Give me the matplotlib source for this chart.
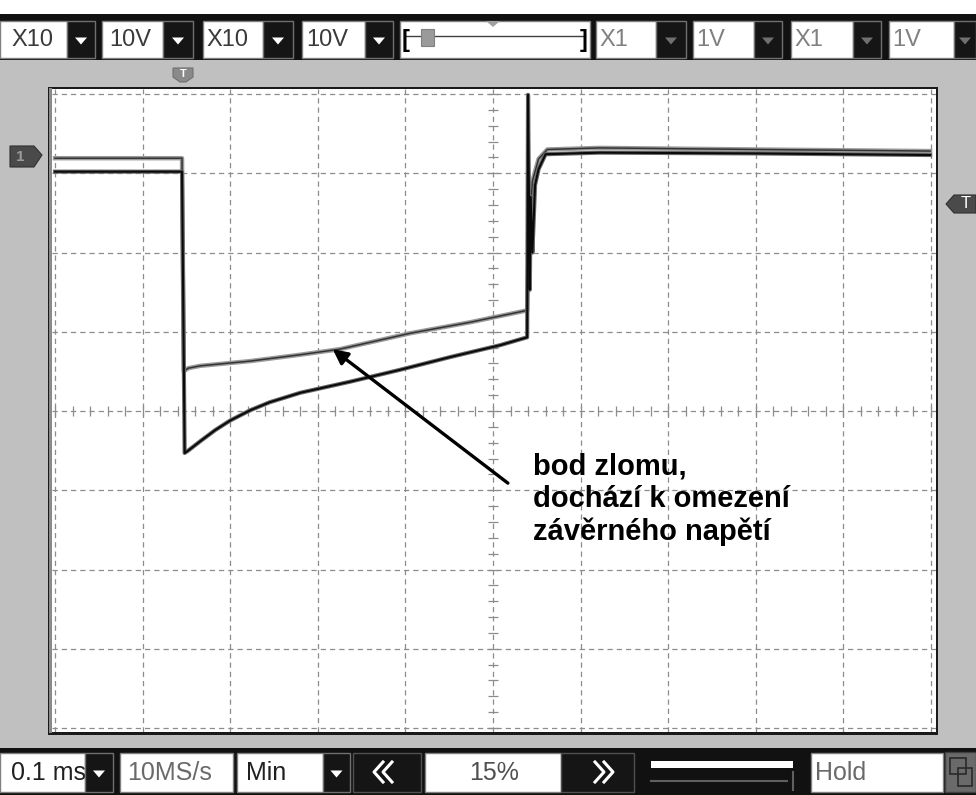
import numpy as np
import matplotlib
matplotlib.use("Agg")
import matplotlib.pyplot as plt
import matplotlib.patheffects as pe
from matplotlib.patches import Rectangle, Polygon

plt.rcParams['font.family'] = ['Liberation Sans', 'DejaVu Sans']

# --- data (time in ms, voltage in V) ---
t_ch1 = [0.0, 0.145, 0.148, 0.152, 0.166, 0.183, 0.200, 0.223, 0.245, 0.280,
         0.337, 0.394, 0.451, 0.508, 0.539, 0.540, 0.542, 0.543, 0.545, 0.548,
         0.552, 0.560, 0.622, 0.800, 0.999]
v_ch1 = [30.2, 30.2, -5.3, -5.0, -3.8, -2.4, -1.2, 0.1, 1.1, 2.3,
         3.7, 5.2, 6.8, 8.3, 9.3, 39.9, 15.3, 27.0, 20.0, 28.5,
         30.5, 32.4, 32.6, 32.5, 32.3]

t_ch2 = [0.0, 0.145, 0.147, 0.152, 0.166, 0.223, 0.280, 0.325, 0.405, 0.474,
         0.539, 0.541, 0.545, 0.552, 0.562, 0.622, 0.800, 0.999]
v_ch2 = [31.9, 31.9, 5.0, 5.4, 5.7, 6.3, 7.1, 7.8, 9.8, 11.2,
         12.7, 22.0, 29.0, 31.8, 33.0, 33.2, 33.0, 32.8]

note_text = "bod zlomu,\ndochází k omezení\nzávěrného napětí"
note_xy = (0.317, 7.8)       # tip of the arrow
note_from = (0.517, -9.1)    # tail of the arrow

top_labels = ["X10", "10V", "X10", "10V", "X1", "1V", "X1", "1V"]
bottom_labels = ["0.1 ms", "10MS/s", "Min", "15%", "Hold"]

W, H = 976, 795
fig = plt.figure(figsize=(W / 100, H / 100), dpi=100)
fig.patch.set_facecolor("white")

# background axes in pixel coordinates for the instrument chrome
bg = fig.add_axes([0, 0, 1, 1])
bg.set_xlim(0, W)
bg.set_ylim(H, 0)
bg.axis("off")


def rect(x0, y0, x1, y1, fc, ec="none", lw=0, z=1):
    bg.add_patch(Rectangle((x0, y0), x1 - x0, y1 - y0, facecolor=fc,
                           edgecolor=ec, linewidth=lw, zorder=z))


def dropdown(x0, x1, y0, y1, tri="white"):
    rect(x0, y0, x1, y1, "#151515", "#707070", 1.0, z=3)
    cx = (x0 + x1) / 2
    cy = (y0 + y1) / 2 + 1
    bg.add_patch(Polygon([[cx - 6, cy - 3], [cx + 6, cy - 3], [cx, cy + 4]],
                         closed=True, facecolor=tri, edgecolor="none", zorder=4))


def box(x0, x1, y0, y1, label, color, tx, ha="left", fs=17):
    rect(x0, y0, x1, y1, "white", "#808080", 1.0, z=2)
    bg.text(tx, (y0 + y1) / 2 + 1, label, fontsize=fs, color=color,
            ha=ha, va="center", zorder=2.5, clip_on=False)


# grey panel and black tool bars
rect(0, 60, W, 750, "#c0c0c0")
rect(0, 14, W, 60, "#111111")
rect(0, 748, W, H, "#111111")

# top bar
top_boxes = [(0, 67, 95), (102, 163, 193), (203, 263, 293), (302, 365, 393),
             (596, 656, 686), (693, 754, 782), (791, 853, 881), (889, 954, 976)]
top_text_x = [11, 109, 206, 306, 599, 696, 794, 892]
for i, (bx0, bx1, dx1) in enumerate(top_boxes):
    enabled = i < 4
    box(bx0, bx1, 21, 58, top_labels[i], "#3a3a3a" if enabled else "#808080",
        top_text_x[i])
    dropdown(bx1, dx1, 21, 58, "white" if enabled else "#707070")

# trigger position slider
rect(400, 21, 590, 58, "white", "#808080", 1.0, z=2)
bg.plot([406, 585], [36, 36], color="#404040", lw=1.0, zorder=3)
bg.text(402, 40, "[", fontsize=17, fontweight="bold", color="black", va="center", zorder=3)
bg.text(580, 40, "]", fontsize=17, fontweight="bold", color="black", va="center", zorder=3)
rect(421, 29, 434, 46, "#9a9a9a", "#808080", 0.8, z=4)
bg.add_patch(Polygon([[486, 21], [500, 21], [493, 27]], closed=True,
                     facecolor="#a0a0a0", edgecolor="none", zorder=4))

# trigger marker above the screen
bg.add_patch(Polygon([[173, 68], [193, 68], [193, 77], [186, 82], [180, 82], [173, 77]],
                     closed=True, facecolor="#8a8a8a", edgecolor="#707070", lw=0.8, zorder=3))
bg.text(183, 74, "T", fontsize=8, fontweight="bold", color="white", ha="center",
        va="center", zorder=4)

# channel 1 marker on the left
bg.add_patch(Polygon([[10, 146], [34, 146], [42, 155], [34, 167], [10, 167]],
                     closed=True, facecolor="#4a4a4a", edgecolor="#303030", lw=0.8, zorder=3))
bg.text(20, 157, "1", fontsize=11, fontweight="bold", color="#9a9a9a", ha="center",
        va="center", zorder=4)

# trigger level marker on the right
bg.add_patch(Polygon([[976, 195], [954, 195], [946, 204], [954, 213], [976, 213]],
                     closed=True, facecolor="#4a4a4a", edgecolor="#303030", lw=0.8, zorder=3))
bg.text(966, 204, "T", fontsize=12, color="white", ha="center", va="center", zorder=4)

# screen frame
rect(48, 87, 938, 735, "#1a1a1a", z=1)
rect(49, 88, 52, 733, "#8a8a8a", z=1.5)

# bottom bar
box(0, 85, 753, 792, bottom_labels[0], "#202020", 11, fs=18)
dropdown(85, 113, 753, 792)
box(120, 233, 753, 792, bottom_labels[1], "#6a6a6a", 127, fs=18)
box(237, 323, 753, 792, bottom_labels[2], "#202020", 246, fs=18)
dropdown(323, 350, 753, 792)
rect(353, 753, 421, 792, "#151515", "#505050", 1.0, z=2)
box(425, 561, 753, 792, bottom_labels[3], "#505050", 494, ha="center", fs=18)
rect(561, 753, 634, 792, "#151515", "#505050", 1.0, z=2)
for dx in (0, 9):
    bg.plot([392 - dx, 383 - dx, 392 - dx], [762, 772, 782], color="white", lw=2.2, zorder=3)
    bg.plot([595 + dx, 604 + dx, 595 + dx], [762, 772, 782], color="white", lw=2.2, zorder=3)
rect(651, 761, 793, 768, "white", z=3)
bg.plot([651, 787], [781, 781], color="#606060", lw=1.5, zorder=3)
bg.plot([793, 793], [772, 790], color="#606060", lw=1.5, zorder=3)
box(811, 943, 753, 792, bottom_labels[4], "#6a6a6a", 815, fs=18)
rect(945, 752, 976, 792, "#6a6a6a", "#404040", 1.0, z=2)
rect(950, 758, 966, 774, "none", "#2a2a2a", 1.2, z=3)
rect(958, 768, 972, 786, "none", "#2a2a2a", 1.2, z=3)

# --- the oscilloscope screen ---
px0, px1, py0, py1 = 52, 936, 89, 732
ax = fig.add_axes([px0 / W, 1 - py1 / H, (px1 - px0) / W, (py1 - py0) / H])
ax.set_facecolor("white")
ax.set_xlim((px0 - 55) / 876, (px1 - 55) / 876)
ax.set_ylim(-40 - (py1 - 728) / 7.925, 40 + (94 - py0) / 7.925)
for s in ax.spines.values():
    s.set_visible(False)
ax.set_xticks([])
ax.set_yticks([])

grid_kw = dict(color="#8c8c8c", lw=0.9, linestyle=(0, (4.2, 3.2)), zorder=1)
for gx in np.arange(0, 1.01, 0.1):
    ax.axvline(gx, **grid_kw)
for gy in np.arange(-40, 41, 10):
    ax.axhline(gy, **grid_kw)
# minor ticks along the centre lines
ax.plot(np.arange(0, 1.001, 0.02), np.zeros(51), linestyle="none", marker="|",
        markersize=7, color="#8c8c8c", mew=0.9, zorder=1)
ax.plot(np.full(41, 0.5), np.arange(-40, 40.1, 2), linestyle="none", marker="_",
        markersize=7, color="#8c8c8c", mew=0.9, zorder=1)

ax.plot(t_ch2, v_ch2, color="#333333", lw=1.1, zorder=3,
        path_effects=[pe.Stroke(linewidth=3.2, foreground="#9a9a9a"), pe.Normal()])
ax.plot(t_ch1, v_ch1, color="#0a0a0a", lw=1.5, zorder=4,
        path_effects=[pe.Stroke(linewidth=3.0, foreground="#6a6a6a"), pe.Normal()])

ax.annotate("", xy=note_xy, xytext=note_from,
            arrowprops=dict(arrowstyle="-|>", color="black", lw=2.4,
                            mutation_scale=22, shrinkA=0, shrinkB=0), zorder=5)
ax.text(0.546, -5.2, note_text, fontsize=21, fontweight="bold", color="black",
        ha="left", va="top", linespacing=1.22, zorder=5)

fig.savefig("out.png", dpi=100)
